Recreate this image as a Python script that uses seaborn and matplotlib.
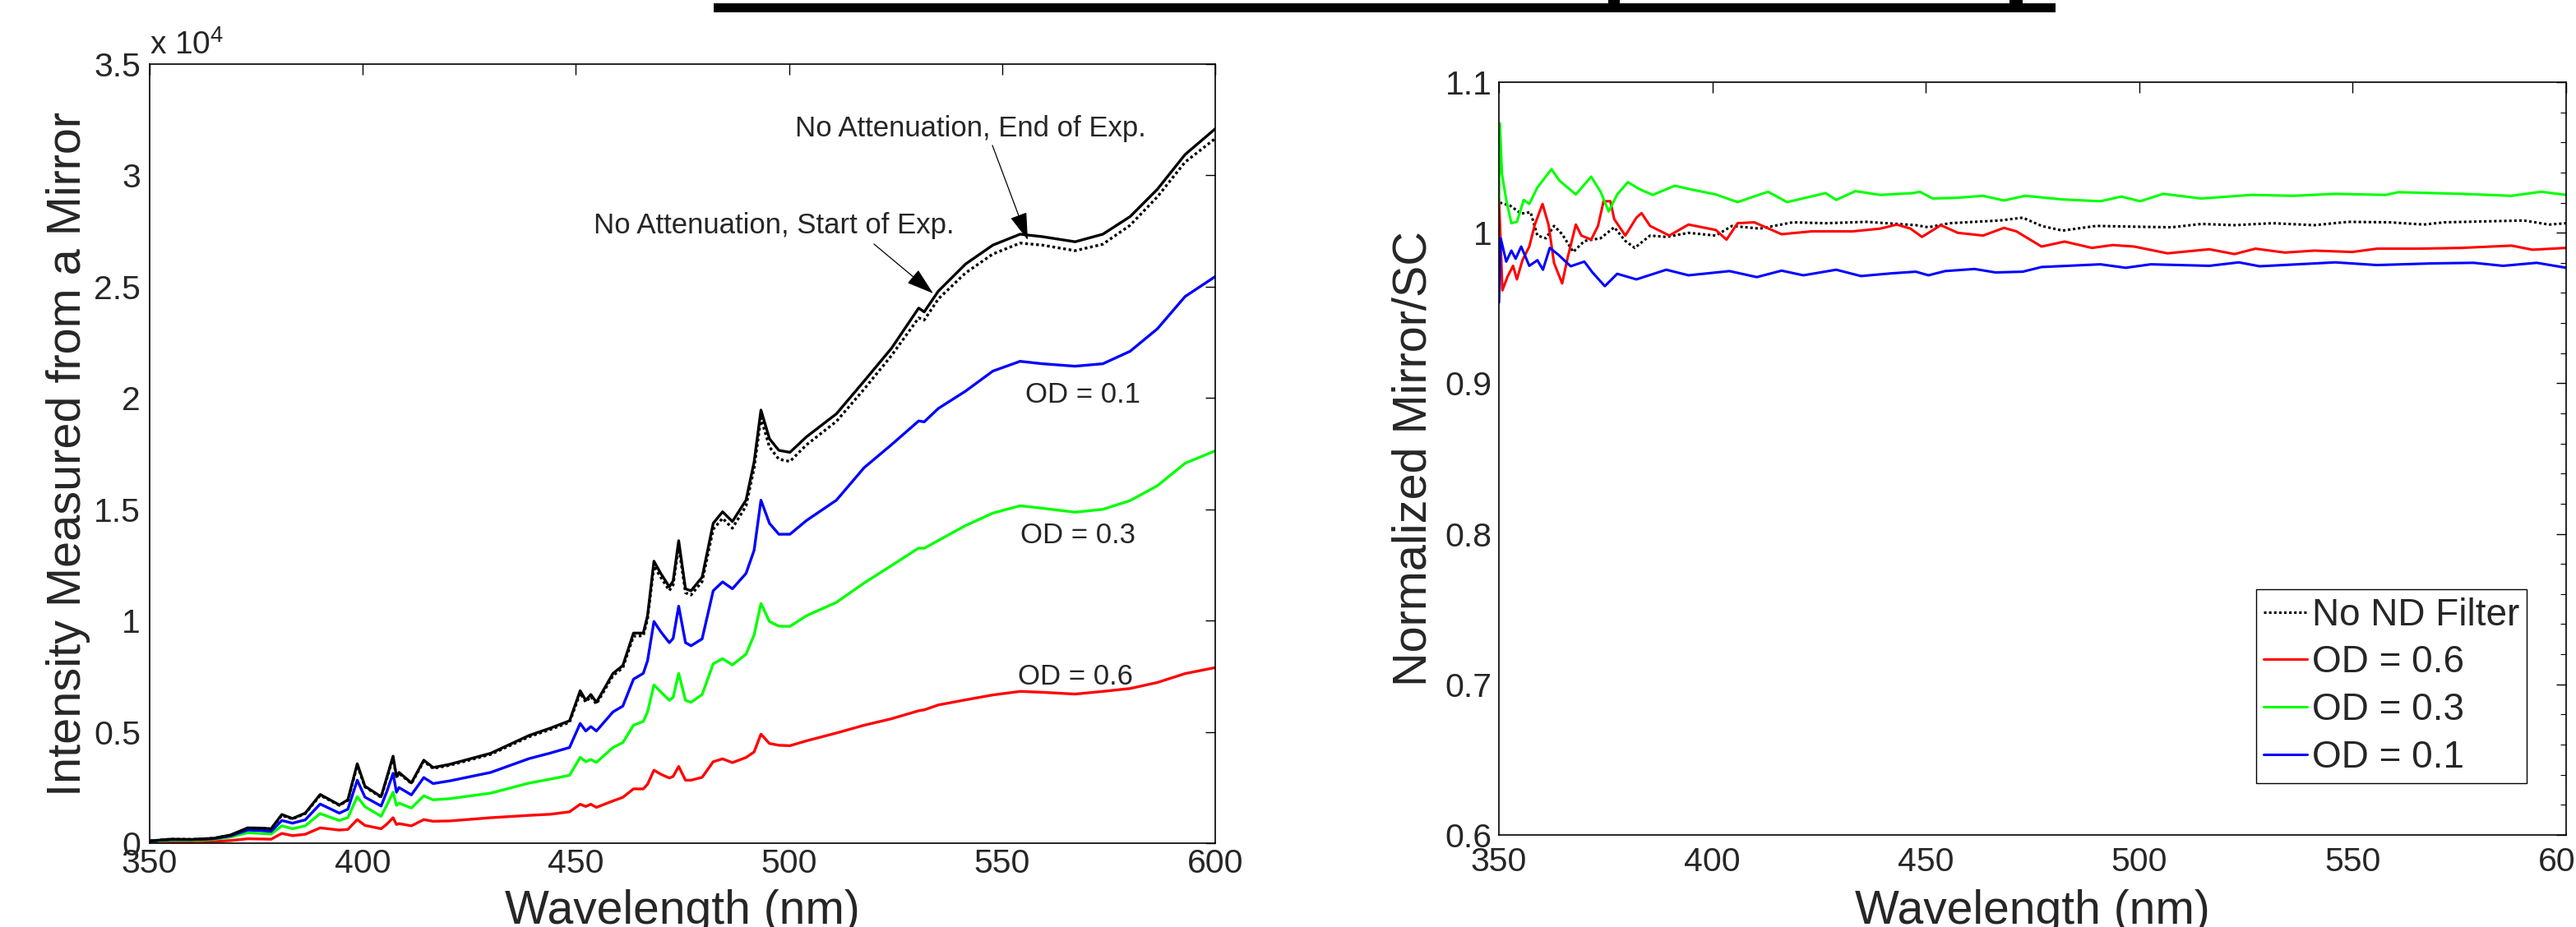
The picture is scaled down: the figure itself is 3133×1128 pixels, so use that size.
import matplotlib
matplotlib.use("Agg")
import matplotlib.pyplot as plt
import seaborn as sns
import pandas as pd
from matplotlib.patches import Rectangle
from matplotlib.lines import Line2D
from matplotlib.ticker import FuncFormatter, MultipleLocator

# ---------------- Left panel: spectra reflected from the mirror ----------------
wavelength = [350, 355, 360, 365, 369, 373, 376, 378.5, 381, 383.5,
              386.5, 390, 394.5, 396.5, 398.7, 400.5, 404.3, 405.6, 407.1, 407.9,
              408.5, 411.4, 414.3, 416.5, 420.4, 430, 439, 444, 448.5, 451,
              452.3, 453.5, 454.8, 458.7, 461, 463.5, 465.8, 466.8, 468.3, 469.9,
              471.9, 472.8, 474.1, 475.7, 477, 479.6, 482.2, 484.4, 486.7, 489.9,
              491.8, 493.4, 495.4, 497.6, 500.2, 504.1, 511.1, 517.6, 524, 530.4,
              531.7, 535, 541.4, 547.8, 554.2, 559.4, 567.1, 573.6, 580, 586.4,
              592.9, 600]

no_att_end = [100, 180, 170, 220, 370, 690, 680, 650, 1290, 1110,
              1350, 2190, 1720, 1950, 3570, 2560, 2090, 2930, 3910, 2990,
              3180, 2710, 3730, 3400, 3545, 4040, 4840, 5170, 5500, 6850,
              6420, 6680, 6330, 7630, 7980, 9440, 9440, 10220, 12670, 12120,
              11520, 11780, 13590, 11430, 11340, 11950, 14370, 14890, 14450, 15410,
              17130, 19460, 18170, 17650, 17560, 18260, 19290, 20760, 22230, 24040,
              23870, 24800, 26020, 26870, 27360, 27250, 27020, 27360, 28150, 29380,
              30940, 32100]

no_att_start = [100, 180, 170, 220, 360, 680, 670, 640, 1250, 1090,
                1330, 2150, 1700, 1920, 3500, 2530, 2060, 2880, 3850, 2950,
                3140, 2680, 3680, 3360, 3500, 3990, 4780, 5110, 5430, 6750,
                6340, 6590, 6250, 7530, 7880, 9300, 9320, 10080, 12450, 11950,
                11350, 11600, 13350, 11250, 11150, 11750, 14100, 14600, 14150, 15150,
                16850, 19100, 17800, 17250, 17150, 17900, 18950, 20400, 21900, 23600,
                23500, 24450, 25620, 26470, 26960, 26870, 26620, 26910, 27760, 29040,
                30600, 31660]

od01 = [100, 160, 160, 200, 330, 590, 570, 530, 1020, 900,
        1050, 1760, 1350, 1530, 2830, 2070, 1670, 2300, 3140, 2290,
        2500, 2170, 2950, 2680, 2800, 3180, 3800, 4050, 4300, 5380,
        5040, 5240, 5040, 5900, 6160, 7370, 7630, 8200, 9960, 9500,
        9010, 9200, 10650, 9010, 8870, 9180, 11340, 11740, 11430, 12120,
        13160, 15410, 14370, 13880, 13880, 14500, 15410, 16870, 17900, 18970,
        18930, 19530, 20310, 21210, 21650, 21540, 21430, 21540, 22100, 23110,
        24560, 25460]

od03 = [80, 130, 130, 170, 280, 470, 440, 410, 780, 650,
        780, 1330, 1020, 1150, 2090, 1640, 1210, 1700, 2290, 1700,
        1800, 1580, 2130, 1950, 2000, 2250, 2700, 2880, 3050, 3860,
        3660, 3760, 3630, 4300, 4520, 5300, 5470, 5900, 7110, 6800,
        6420, 6550, 7630, 6420, 6330, 6680, 8060, 8290, 8010, 8490,
        9360, 10770, 9960, 9750, 9740, 10220, 10820, 11690, 12470, 13260,
        13250, 13600, 14270, 14830, 15160, 15050, 14870, 15000, 15390, 16060,
        17070, 17630]

od06 = [30, 50, 60, 80, 120, 200, 190, 180, 440, 340,
        400, 690, 590, 620, 1060, 800, 650, 850, 1145, 840,
        880, 780, 1060, 985, 1000, 1145, 1250, 1300, 1410, 1750,
        1650, 1750, 1610, 1900, 2060, 2440, 2440, 2650, 3280, 3100,
        2930, 3000, 3450, 2830, 2830, 2960, 3660, 3790, 3620, 3850,
        4100, 4900, 4480, 4400, 4380, 4600, 4950, 5300, 5590, 5950,
        5990, 6210, 6440, 6660, 6820, 6780, 6700, 6820, 6950, 7220,
        7620, 7890]

# ---------------- Right panel: normalized mirror / SC ratio ----------------
wl_none = [350.2, 352.6, 355.2, 357.4, 359.0, 361.0, 362.9, 364.8, 367.4, 370.0,
           373.8, 377.0, 379.6, 381.8, 385.4, 389.2, 394.4, 400.8, 404.6, 411.1,
           418.8, 426.5, 436.1, 447.65, 450.6, 455.5, 467.3, 472.7, 477.1, 482.0,
           489.9, 498.7, 507.6, 514.5, 522.3, 531.2, 541.0, 548.9, 558.7, 566.6,
           571.5, 590.1, 596.0, 600]
ratio_none = [1.020, 1.018, 1.0127, 1.0136, 0.9981, 0.9963, 1.0045, 0.999, 0.9872, 0.9945,
              0.9963, 1.0036, 0.9945, 0.9899, 0.9981, 0.9972, 0.9999, 0.9981, 1.0045, 1.0027,
              1.0069, 1.0063, 1.0072, 1.005, 1.0036, 1.0063, 1.0081, 1.0100, 1.0045, 1.0014,
              1.0045, 1.004, 1.0036, 1.0058, 1.005, 1.0063, 1.005, 1.0072, 1.0069, 1.0054,
              1.0069, 1.0081, 1.0054, 1.0063]

wl_06 = [350.0, 350.8, 352.0, 353.3, 354.2, 355.5, 357.1, 358.4, 360.2, 361.6,
         362.9, 364.8, 366.1, 368.0, 369.3, 371.6, 373.2, 374.5, 376.1, 377.0,
         379.6, 382.2, 383.4, 385.4, 389.9, 394.4, 400.8, 403.3, 405.9, 409.8,
         416.2, 423.3, 432.9, 439.3, 443.2, 446.4, 449.1, 453.5, 457.5, 463.4,
         468.3, 471.2, 477.1, 482.5, 488.9, 493.8, 498.8, 506.6, 516.4, 522.3,
         527.2, 534.1, 541.0, 549.9, 555.7, 565.6, 575.4, 587.2, 592.1, 600]
ratio_06 = [1.0227, 0.9617, 0.9708, 0.978, 0.969, 0.9817, 0.9908, 1.0054, 1.0191, 1.0054,
            0.9799, 0.9663, 0.9836, 1.0054, 0.9981, 0.9954, 1.0045, 1.0209, 1.0209, 1.009,
            0.9981, 1.01, 1.013, 1.0045, 0.9981, 1.0054, 1.0018, 0.9954, 1.0063, 1.0069,
            0.999, 1.0009, 1.0009, 1.0027, 1.0054, 1.0027, 0.9972, 1.005, 0.9999, 0.9981,
            1.0032, 1.0009, 0.9908, 0.9941, 0.9899, 0.9918, 0.9908, 0.9863, 0.9890, 0.9858,
            0.9894, 0.9868, 0.9881, 0.9872, 0.9894, 0.9894, 0.9899, 0.9914, 0.9887, 0.9899]

wl_03 = [350.0, 350.2, 350.7, 351.7, 352.9, 354.2, 355.8, 357.1, 359.0, 362.3,
         364.2, 368.0, 371.6, 373.8, 375.7, 377.7, 380.2, 382.8, 386.0, 391.2,
         394.4, 400.8, 405.9, 413.0, 417.5, 426.5, 429.0, 433.5, 439.3, 447.0,
         448.6, 451.6, 457.5, 463.4, 468.3, 473.2, 482.0, 490.9, 495.8, 500.2,
         505.6, 514.5, 526.3, 536.1, 545.9, 557.7, 560.7, 575.4, 587.2, 594.1, 600]
ratio_03 = [1.02, 1.0727, 1.039, 1.0218, 1.0063, 1.0072, 1.0218, 1.0191, 1.03, 1.0422,
            1.0345, 1.0254, 1.0372, 1.0272, 1.0141, 1.0254, 1.0336, 1.0291, 1.0251, 1.0312,
            1.0291, 1.0254, 1.0203, 1.0272, 1.0203, 1.0263, 1.0218, 1.0276, 1.0251, 1.0263,
            1.0272, 1.0227, 1.0232, 1.0245, 1.0214, 1.0245, 1.0221, 1.0209, 1.024, 1.0209,
            1.0258, 1.0227, 1.0251, 1.0245, 1.0258, 1.0251, 1.0269, 1.0258, 1.0245, 1.0272, 1.0251]

wl_01 = [350.0, 350.4, 351.7, 352.9, 353.9, 355.2, 357.1, 359.0, 360.3, 361.9,
         363.9, 366.8, 370.0, 371.9, 374.8, 377.7, 382.2, 389.2, 394.4, 404.0,
         410.4, 416.2, 421.3, 429.0, 434.8, 441.9, 447.65, 450.6, 454.5, 461.4,
         466.3, 472.7, 477.1, 490.9, 496.8, 502.7, 516.4, 523.3, 528.2, 545.9,
         555.7, 568.5, 578.3, 585.2, 593.1, 600]
ratio_01 = [0.9535, 0.9963, 0.9808, 0.9881, 0.9827, 0.9908, 0.978, 0.9817, 0.9754, 0.9899,
            0.9854, 0.9777, 0.9808, 0.9736, 0.9645, 0.9727, 0.969, 0.9754, 0.9717, 0.9745,
            0.9705, 0.9748, 0.9717, 0.9754, 0.9712, 0.973, 0.9741, 0.9717, 0.9745, 0.9759,
            0.9736, 0.9741, 0.9772, 0.979, 0.9767, 0.979, 0.978, 0.9803, 0.9777, 0.9803,
            0.9785, 0.9796, 0.98, 0.978, 0.98, 0.9767]

legend_labels = ["No ND Filter", "OD = 0.6", "OD = 0.3", "OD = 0.1"]

RED, GREEN, BLUE, BLACK = "#ff0000", "#00ff00", "#0000ff", "#000000"
DOTS = (0, (1.0, 1.0))

sns.set_theme(style="white")
plt.rcParams["font.family"] = ["Liberation Sans", "DejaVu Sans"]
plt.rcParams["mathtext.default"] = "regular"

fig = plt.figure(figsize=(31.33, 11.28), dpi=100)
ax1 = fig.add_axes([0.0581, 0.0904, 0.4137, 0.8404])
ax2 = fig.add_axes([0.5819, 0.0993, 0.4143, 0.8121])


def draw(ax, x, y, color, lw, ls="-"):
    frame = pd.DataFrame({"wavelength": x, "value": y})
    sns.lineplot(data=frame, x="wavelength", y="value", ax=ax, color=color,
                 linewidth=lw, linestyle=ls, sort=False, estimator=None)


# left panel curves
draw(ax1, wavelength, od06, RED, 2.4)
draw(ax1, wavelength, od03, GREEN, 2.4)
draw(ax1, wavelength, od01, BLUE, 2.4)
draw(ax1, wavelength, no_att_start, BLACK, 2.4, DOTS)
draw(ax1, wavelength, no_att_end, BLACK, 2.4)

ax1.set_xlim(350, 600)
ax1.set_ylim(0, 35000)
ax1.xaxis.set_major_locator(MultipleLocator(50))
ax1.yaxis.set_major_locator(MultipleLocator(5000))
ax1.yaxis.set_major_formatter(FuncFormatter(lambda v, p: f"{v / 1e4:g}"))
ax1.set_xlabel("Wavelength (nm)", fontsize=41)
ax1.set_ylabel("Intensity Measured from a Mirror", fontsize=41.5)
ax1.xaxis.set_label_coords(0.5, -0.1034)
ax1.xaxis.label.set_va("baseline")
ax1.yaxis.label.set_va("baseline")
ax1.yaxis.set_label_coords(-0.0651, 0.5)
ax1.text(0.0, 1.004, r"x 10$^{4}$", transform=ax1.transAxes, fontsize=28,
         ha="left", va="bottom")
ax1.tick_params(axis="both", which="major", direction="in", top=True, right=True,
                length=9, width=1.0, labelsize=29.5, color="black")
ax1.tick_params(axis="x", pad=4)
ax1.tick_params(axis="y", pad=8)

# annotations on the left panel
arrow = dict(arrowstyle="-|>,head_length=0.7,head_width=0.22", lw=0.9,
             color="black", mutation_scale=30, shrinkA=0, shrinkB=0)
ax1.annotate("", xy=(556.0, 27100), xytext=(547.7, 31350), arrowprops=arrow)
ax1.annotate("", xy=(533.8, 24700), xytext=(519.9, 26920), arrowprops=arrow)
ax1.text(542.6, 32090, "No Attenuation, End of Exp.", fontsize=25,
         ha="center", va="center")
ax1.text(496.5, 27730, "No Attenuation, Start of Exp.", fontsize=25,
         ha="center", va="center")
ax1.text(568.9, 20150, "OD = 0.1", fontsize=25, ha="center", va="center")
ax1.text(567.8, 13820, "OD = 0.3", fontsize=25, ha="center", va="center")
ax1.text(567.1, 7470, "OD = 0.6", fontsize=25, ha="center", va="center")

# right panel curves
draw(ax2, wl_none, ratio_none, BLACK, 2.2, DOTS)
draw(ax2, wl_06, ratio_06, RED, 2.2)
draw(ax2, wl_03, ratio_03, GREEN, 2.2)
draw(ax2, wl_01, ratio_01, BLUE, 2.2)

ax2.set_xlim(350, 600)
ax2.set_ylim(0.6, 1.1)
ax2.xaxis.set_major_locator(MultipleLocator(50))
ax2.yaxis.set_major_locator(MultipleLocator(0.1))
ax2.yaxis.set_minor_locator(MultipleLocator(0.02))
ax2.yaxis.set_major_formatter(FuncFormatter(lambda v, p: f"{v:g}"))
ax2.set_xlabel("Wavelength (nm)", fontsize=41)
ax2.set_ylabel("Normalized Mirror/SC", fontsize=41.5)
ax2.xaxis.set_label_coords(0.5, -0.118)
ax2.xaxis.label.set_va("baseline")
ax2.yaxis.label.set_va("baseline")
ax2.yaxis.set_label_coords(-0.0686, 0.5)
ax2.tick_params(axis="both", which="both", direction="in", top=True, right=True,
                color="black")
ax2.tick_params(axis="both", which="major", length=9, width=1.0, labelsize=29.5)
ax2.tick_params(axis="both", which="minor", length=5, width=0.8)
ax2.tick_params(axis="x", pad=10)
ax2.tick_params(axis="y", pad=6)

handles = [Line2D([], [], color=BLACK, lw=2.2, linestyle=DOTS),
           Line2D([], [], color=RED, lw=2.2),
           Line2D([], [], color=GREEN, lw=2.2),
           Line2D([], [], color=BLUE, lw=2.2)]
leg = ax2.legend(handles, legend_labels, loc="lower right",
                 bbox_to_anchor=(0.963, 0.0688), fontsize=33, frameon=True,
                 fancybox=False, edgecolor="black", framealpha=1,
                 handlelength=1.15, handletextpad=0.12, borderpad=0.2,
                 labelspacing=0.3, borderaxespad=0)
leg.get_frame().set_linewidth(1.0)

for ax in (ax1, ax2):
    ax.set_facecolor("white")
    for s in ax.spines.values():
        s.set_visible(True)
        s.set_color("black")
        s.set_linewidth(1.2)

# heavy rule along the top edge of the page
fig.add_artist(Rectangle((0.277, 0.9867), 0.521, 0.0098, transform=fig.transFigure,
                         facecolor="black", edgecolor="none"))
fig.add_artist(Rectangle((0.6243, 0.9960), 0.0045, 0.0040, transform=fig.transFigure,
                         facecolor="black", edgecolor="none"))
fig.add_artist(Rectangle((0.7801, 0.9960), 0.0051, 0.0040, transform=fig.transFigure,
                         facecolor="black", edgecolor="none"))

fig.savefig("out.png", dpi=100, facecolor="white")
